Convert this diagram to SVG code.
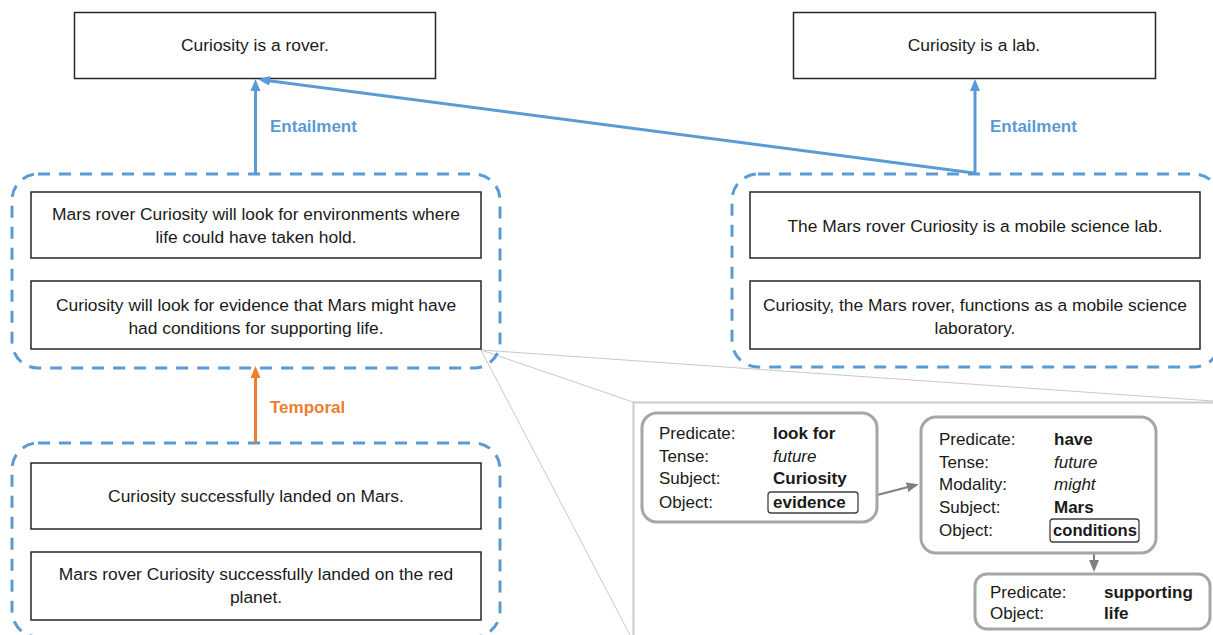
<svg xmlns="http://www.w3.org/2000/svg" width="1213" height="635" viewBox="0 0 1213 635">
<defs>
<style>
.box{fill:#fff;stroke:#262626;stroke-width:1.5}
.grp{fill:none;stroke:#5B9BD5;stroke-width:3;stroke-dasharray:12 9}
.t{font-family:"Liberation Sans",Arial,sans-serif;font-size:17.4px;fill:#1a1a1a;text-anchor:middle}
.lbl{font-family:"Liberation Sans",Arial,sans-serif;font-size:17px;font-weight:bold}
.frame{fill:#fff;stroke:#a6a6a6;stroke-width:3}
.k{font-family:"Liberation Sans",Arial,sans-serif;font-size:17px;fill:#1a1a1a}
.b{font-weight:bold}
.i{font-style:italic}
.obj{fill:#fff;stroke:#404040;stroke-width:1.3}
.zoom{stroke:#c8c8c8;stroke-width:1;fill:none}
</style>
<marker id="ab" markerUnits="userSpaceOnUse" markerWidth="12" markerHeight="12" viewBox="0 0 12 12" refX="3" refY="6" orient="auto">
<path d="M0,1 L12,6 L0,11 z" fill="#5B9BD5"/>
</marker>
<marker id="ao" markerUnits="userSpaceOnUse" markerWidth="12" markerHeight="12" viewBox="0 0 12 12" refX="3" refY="6" orient="auto">
<path d="M0,1 L12,6 L0,11 z" fill="#ED7D31"/>
</marker>
<marker id="ag" markerUnits="userSpaceOnUse" markerWidth="12" markerHeight="12" viewBox="0 0 12 12" refX="3" refY="6" orient="auto">
<path d="M0,1 L12,6 L0,11 z" fill="#7f7f7f"/>
</marker>
</defs>
<rect width="1213" height="635" fill="#fff"/>

<g id="zoom-lines">
<line class="zoom" x1="481" y1="350" x2="1213" y2="401"/>
<line class="zoom" x1="481" y1="350" x2="633" y2="402"/>
<line class="zoom" x1="481" y1="350" x2="630" y2="635"/>
</g>

<g id="inset-panel">
<rect x="633.5" y="402.5" width="600" height="250" fill="#fff" stroke="#cccccc" stroke-width="2"/>
</g>

<g id="hyp-rover">
<rect class="box" x="74.5" y="12.5" width="361" height="66"/>
<text class="t" x="255" y="51">Curiosity is a rover.</text>
</g>
<g id="hyp-lab">
<rect class="box" x="793.5" y="12.5" width="362" height="66"/>
<text class="t" x="974" y="51">Curiosity is a lab.</text>
</g>

<g id="group-look">
<rect class="grp" x="12" y="174" width="488" height="194" rx="26"/>
<rect class="box" x="31" y="192" width="450" height="66"/>
<text class="t" x="256" y="220">Mars rover Curiosity will look for environments where</text>
<text class="t" x="256" y="243">life could have taken hold.</text>
<rect class="box" x="31" y="281" width="450" height="68"/>
<text class="t" x="256" y="311">Curiosity will look for evidence that Mars might have</text>
<text class="t" x="256" y="334">had conditions for supporting life.</text>
</g>

<g id="group-lab">
<rect class="grp" x="732" y="174" width="488" height="193" rx="26"/>
<rect class="box" x="750" y="192" width="450" height="66"/>
<text class="t" x="975" y="232">The Mars rover Curiosity is a mobile science lab.</text>
<rect class="box" x="750" y="281" width="450" height="68"/>
<text class="t" x="975" y="311">Curiosity, the Mars rover, functions as a mobile science</text>
<text class="t" x="975" y="334">laboratory.</text>
</g>

<g id="group-landed">
<rect class="grp" x="12" y="443" width="488" height="194" rx="26"/>
<rect class="box" x="31" y="463" width="450" height="66"/>
<text class="t" x="256" y="502">Curiosity successfully landed on Mars.</text>
<rect class="box" x="31" y="552" width="450" height="68"/>
<text class="t" x="256" y="580">Mars rover Curiosity successfully landed on the red</text>
<text class="t" x="256" y="603">planet.</text>
</g>

<g id="connectors">
<line x1="255.5" y1="174" x2="255.5" y2="88" stroke="#5B9BD5" stroke-width="3" marker-end="url(#ab)"/>
<line x1="974" y1="173" x2="267" y2="80.5" stroke="#5B9BD5" stroke-width="3" marker-end="url(#ab)"/>
<line x1="975" y1="174" x2="975" y2="88" stroke="#5B9BD5" stroke-width="3" marker-end="url(#ab)"/>
<line x1="255.5" y1="443" x2="255.5" y2="375" stroke="#ED7D31" stroke-width="3" marker-end="url(#ao)"/>
<line x1="858" y1="500" x2="910" y2="486.5" stroke="#7f7f7f" stroke-width="2" marker-end="url(#ag)"/>
<line x1="1094" y1="542" x2="1094" y2="563" stroke="#7f7f7f" stroke-width="2" marker-end="url(#ag)"/>
<text class="lbl" x="270" y="132" fill="#5B9BD5">Entailment</text>
<text class="lbl" x="990" y="132" fill="#5B9BD5">Entailment</text>
<text class="lbl" x="270" y="413" fill="#ED7D31">Temporal</text>
</g>

<g id="frame-lookfor">
<rect class="frame" x="642" y="413" width="235" height="109" rx="15"/>
<text class="k" x="659" y="439">Predicate:</text>
<text class="k b" x="773" y="439">look for</text>
<text class="k" x="659" y="462">Tense:</text>
<text class="k i" x="773" y="462">future</text>
<text class="k" x="659" y="484">Subject:</text>
<text class="k b" x="773" y="484">Curiosity</text>
<text class="k" x="659" y="508">Object:</text>
<rect class="obj" x="768" y="492" width="90" height="21" rx="3"/>
<text class="k b" x="773" y="508">evidence</text>
</g>

<g id="frame-have">
<rect class="frame" x="921" y="417" width="235" height="136" rx="15"/>
<text class="k" x="939" y="445">Predicate:</text>
<text class="k b" x="1054" y="445">have</text>
<text class="k" x="939" y="468">Tense:</text>
<text class="k i" x="1054" y="468">future</text>
<text class="k" x="939" y="490">Modality:</text>
<text class="k i" x="1054" y="490">might</text>
<text class="k" x="939" y="513">Subject:</text>
<text class="k b" x="1054" y="513">Mars</text>
<text class="k" x="939" y="536">Object:</text>
<rect class="obj" x="1050" y="519" width="89" height="23" rx="3"/>
<text class="k b" x="1053" y="536" textLength="84" lengthAdjust="spacingAndGlyphs">conditions</text>
</g>

<g id="frame-supporting">
<rect class="frame" x="975" y="574" width="235" height="55" rx="12"/>
<text class="k" x="990" y="598">Predicate:</text>
<text class="k b" x="1104" y="598">supporting</text>
<text class="k" x="990" y="619">Object:</text>
<text class="k b" x="1104" y="619">life</text>
</g>
</svg>
